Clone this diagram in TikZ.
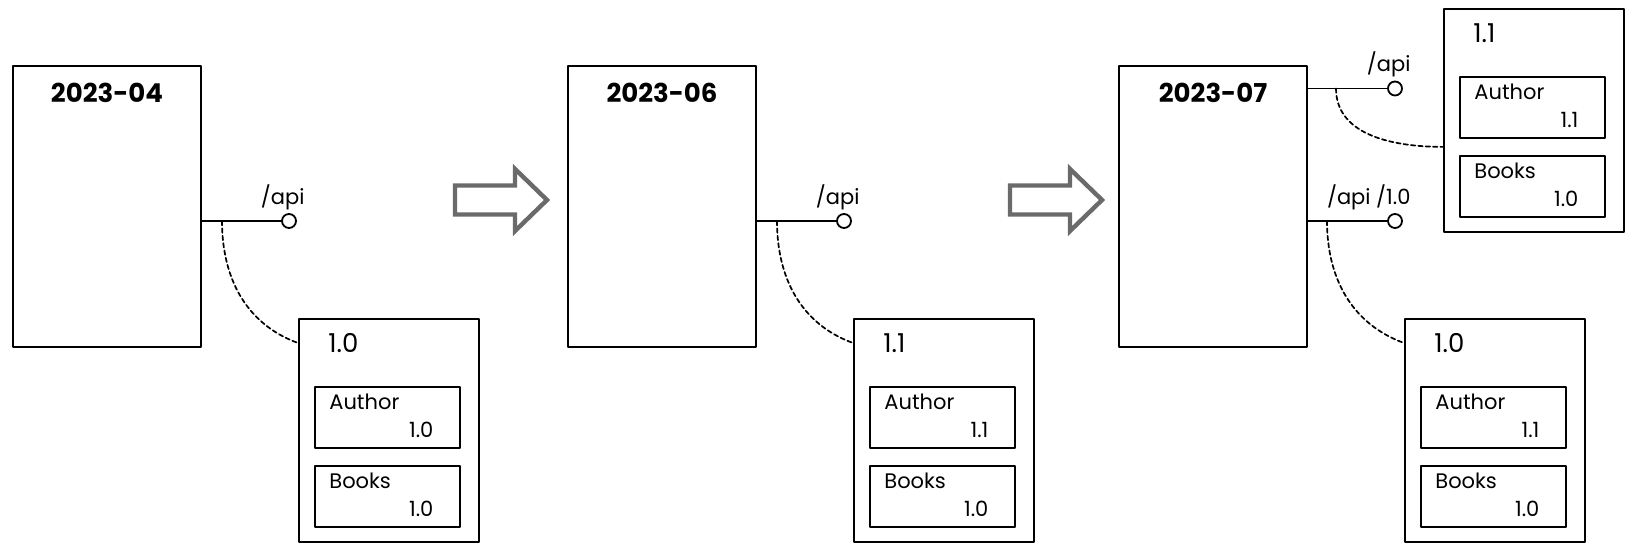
\documentclass[tikz,border=0pt]{standalone}
\usepackage{fontspec}
\setmainfont{Poppins}
\usetikzlibrary{positioning,calc}
\definecolor{arrowgray}{HTML}{6A6A6A}
\tikzset{
	release/.style={draw, line width=1pt, minimum width=94pt, minimum height=140.5pt, inner sep=0pt},
	verbox/.style={draw, line width=1pt, minimum width=90pt, minimum height=111.5pt, inner sep=0pt},
	entbox/.style={draw, line width=.9pt, minimum width=72.5pt, minimum height=30.5pt, inner sep=0pt},
	port/.style={circle, draw, line width=.9pt, fill=white, minimum size=7pt, inner sep=0pt},
	txt/.style={inner sep=0pt, font=\fontsize{10.5}{12}\selectfont},
	head/.style={inner sep=0pt, font=\fontsize{13}{15}\selectfont},
	title/.style={inner sep=0pt, font=\bfseries\fontsize{13}{15}\selectfont},
	stub/.style={line width=.9pt},
	link/.style={line width=.85pt, dash pattern=on 2.2pt off 1.5pt},
	nextarrow/.style={draw=arrowgray, line width=2.2pt, line join=miter, fill=white}
}
\begin{document}
\begin{tikzpicture}[x=.5pt, y=.5pt, line join=round, line cap=round]
	\useasboundingbox (0,0) rectangle (1633,560);
	% releases
	\foreach \px/\pn/\pd in {0/1/2023-04, 555/2/2023-06, 1106/3/2023-07}{
		\node[release, anchor=north west] (r\pn) at (12+\px,495) {};
		\node[title] (t\pn) at ($(r\pn.north)+(0,-28)$) {\pd};
	}
	% arrows between releases
	\foreach \ax in {455,1010}
		\draw[nextarrow] (\ax,374.5) -- (\ax+60,374.5) -- (\ax+60,391) -- (\ax+92,360)
			-- (\ax+60,329) -- (\ax+60,345.5) -- (\ax,345.5) -- cycle;
	% version boxes
	\foreach \vx/\vy/\vn/\vh/\va/\vb in {298/242/v1/1.0/1.0/1.0, 853/242/v2/1.1/1.1/1.0,
			1404/242/v3/1.0/1.1/1.0, 1443/552/v4/1.1/1.1/1.0}{
		\node[verbox, anchor=north west] (\vn) at (\vx,\vy) {};
		\node[head, anchor=west] (\vn h) at ($(\vn.north west)+(30,-25)$) {\vh};
		\node[entbox, anchor=north west] (\vn a) at ($(\vn.north west)+(16,-68)$) {};
		\node[entbox, anchor=north west] (\vn b) at ($(\vn.north west)+(16,-147)$) {};
		\node[txt, anchor=west] (\vn an) at ($(\vn a.north west)+(15,-16)$) {Author};
		\node[txt, anchor=east] (\vn av) at ($(\vn a.north east)+(-27,-44)$) {\va};
		\node[txt, anchor=west] (\vn bn) at ($(\vn b.north west)+(15,-16)$) {Books};
		\node[txt, anchor=east] (\vn bv) at ($(\vn b.north east)+(-27,-44)$) {\vb};
	}
	% endpoints
	\node[port] (c1) at (289,339) {};
	\node[port] (c2) at (844,339) {};
	\node[port] (c3) at (1395,471.5) {};
	\node[port] (c4) at (1395,339) {};
	\foreach \cn/\cl in {c1/{/api}, c2/{/api}, c3/{/api}, c4/{/api /1.0}}
		\node[txt, anchor=south east] (\cn l) at ($(\cn.east)+(8,11)$) {\cl};
	\draw[stub] (r1.east |- c1) -- (c1);
	\draw[stub] (r2.east |- c2) -- (c2);
	\draw[stub] (r3.east |- c3) -- (c3);
	\draw[stub] (r3.east |- c4) -- (c4);
	% links to the served version
	\coordinate (v4m) at ($(v4a.south)!.5!(v4b.north)$);
	\draw[link] ($(r1.east |- c1)+(20,0)$) to[out=-90, in=160] (v1.west |- v1h);
	\draw[link] ($(r2.east |- c2)+(20,0)$) to[out=-90, in=160] (v2.west |- v2h);
	\draw[link] ($(r3.east |- c3)+(28,0)$) to[out=-90, in=180] (v4.west |- v4m);
	\draw[link] ($(r3.east |- c4)+(19,0)$) to[out=-90, in=160] (v3.west |- v3h);
\end{tikzpicture}
\end{document}
